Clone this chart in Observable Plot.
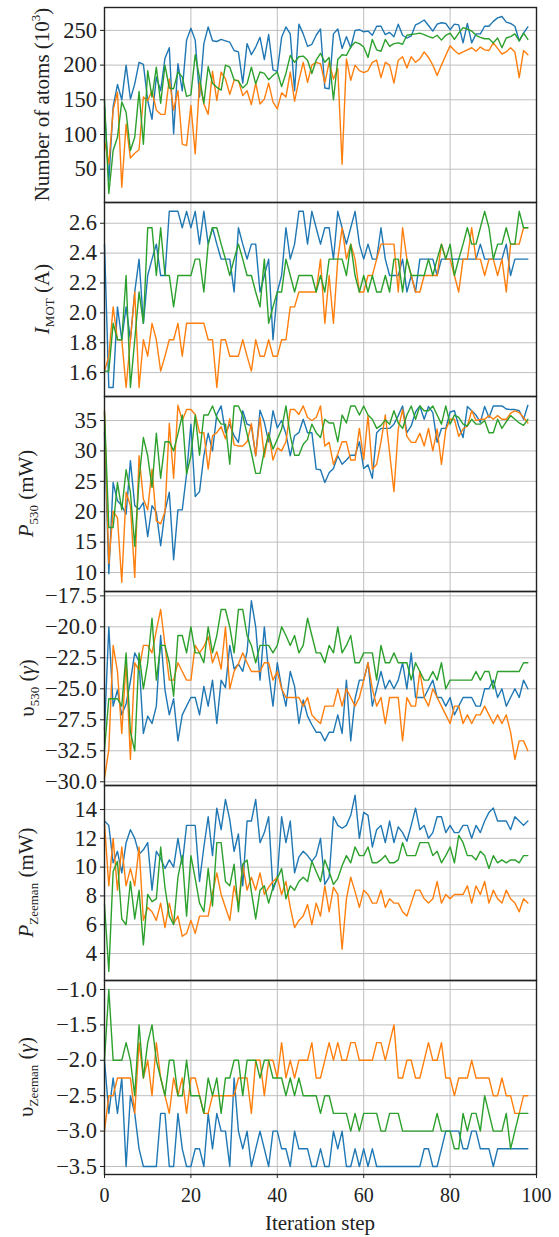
<!DOCTYPE html>
<html>
<head>
<meta charset="utf-8">
<script src="https://cdn.jsdelivr.net/npm/d3@7"></script>
<script src="https://cdn.jsdelivr.net/npm/@observablehq/plot@0.6"></script>
<style>
  body { margin: 0; background: #fff; }
  #chart svg { display: block; overflow: visible; }
  #chart svg, #chart svg text, #chart svg tspan {
    font-family: "Liberation Serif", "Times New Roman", serif !important;
  }
</style>
</head>
<body>
<div id="chart"></div>
<script>
// Iteration steps of the optimiser (x axis)
const steps = d3.range(0, 99);
const xTicks = [0, 20, 40, 60, 80, 100];

// Number of atoms (10^3)
const atomsBlue = [140,33,140,172,150,200,151,173,204,201,149,122,183,163,210,225,101,202,163,236,253,236,154,231,255,235,234,237,235,233,221,219,174,231,215,226,240,208,244,193,191,240,255,245,163,259,245,227,230,243,252,167,166,245,252,224,241,225,250,251,248,249,243,256,256,244,247,241,259,243,239,242,258,261,265,257,249,259,261,260,251,259,258,232,260,232,245,245,256,256,263,268,270,262,260,256,235,246,255];
const atomsOrange = [91,58,135,161,24,115,66,73,78,154,149,163,135,129,129,180,135,163,86,84,142,72,175,144,129,191,149,190,180,158,178,178,156,163,143,174,144,151,174,147,137,160,154,190,148,178,204,175,200,204,202,174,204,180,195,57,209,178,200,192,189,192,204,207,182,204,200,174,207,212,196,212,204,209,219,211,200,185,200,214,228,221,216,219,222,225,220,226,222,221,232,224,216,219,225,219,182,221,215];
const atomsGreen = [149,15,77,96,147,132,77,96,162,86,192,154,197,145,200,167,166,190,183,155,157,215,182,145,198,174,168,164,200,197,179,177,167,173,197,173,190,188,179,185,190,169,188,214,204,212,213,207,188,207,217,204,211,150,208,215,214,226,233,231,226,211,237,222,220,237,227,231,232,230,243,244,245,246,244,241,239,243,236,243,246,237,246,254,252,249,243,240,238,238,232,239,225,239,241,245,235,246,237];
const atomsTicks = [50, 100, 150, 200, 250];

// MOT coil current I_MOT (A)
const imotBlue = [2.46,1.5,1.5,2.04,1.82,2.04,1.82,2.14,2.36,1.93,2.25,2.36,2.46,2.25,2.25,2.68,2.68,2.68,2.57,2.68,2.57,2.68,2.46,2.68,2.46,2.57,2.46,2.36,2.36,2.36,2.14,2.57,2.46,2.36,2.46,2.46,2.14,2.25,2.36,1.82,2.14,2.25,2.57,2.36,2.46,2.68,2.68,2.46,2.68,2.57,2.46,2.57,2.57,2.36,2.68,2.57,2.46,2.57,2.68,2.46,2.36,2.46,2.36,2.36,2.57,2.36,2.25,2.25,2.25,2.36,2.14,2.25,2.14,2.36,2.36,2.36,2.36,2.25,2.36,2.36,2.36,2.36,2.36,2.36,2.36,2.36,2.36,2.46,2.36,2.36,2.36,2.36,2.36,2.46,2.25,2.36,2.36,2.36,2.36];
const imotOrange = [1.61,1.71,2.04,1.82,1.82,1.5,1.82,2.14,1.5,1.82,1.71,1.93,1.82,1.61,1.71,1.82,1.82,1.93,1.71,1.93,1.93,1.93,1.93,1.93,1.82,1.82,1.5,1.82,1.82,1.71,1.71,1.71,1.82,1.71,1.61,1.82,1.71,1.71,1.82,1.71,1.71,1.82,1.82,2.04,2.04,2.14,2.14,2.14,2.14,2.14,2.36,1.93,2.25,1.93,2.36,2.57,2.36,2.46,2.36,2.14,2.14,2.25,2.25,2.36,2.46,2.46,2.46,2.46,2.14,2.57,2.36,2.25,2.14,2.14,2.25,2.25,2.25,2.25,2.46,2.36,2.36,2.25,2.14,2.36,2.36,2.57,2.36,2.36,2.25,2.36,2.36,2.25,2.36,2.14,2.46,2.46,2.46,2.57,2.57];
const imotGreen = [1.61,1.61,1.93,1.82,1.82,2.25,1.5,1.82,2.14,1.93,2.57,2.57,2.25,2.57,2.25,2.25,2.04,2.25,2.25,2.25,2.25,2.36,2.36,2.14,2.46,2.57,2.57,2.46,2.36,2.25,2.36,2.46,2.36,2.25,2.25,2.14,2.04,2.36,1.93,2.04,2.14,2.14,2.36,2.25,2.14,2.25,2.25,2.25,2.25,2.14,2.25,2.14,2.36,2.36,2.36,2.36,2.25,2.46,2.25,2.14,2.25,2.14,2.25,2.14,2.14,2.25,2.14,2.36,2.36,2.14,2.36,2.25,2.25,2.25,2.25,2.36,2.25,2.36,2.46,2.36,2.46,2.25,2.36,2.46,2.57,2.46,2.46,2.57,2.68,2.57,2.36,2.46,2.46,2.57,2.46,2.46,2.68,2.57,2.57];
const imotTicks = [1.6, 1.8, 2.0, 2.2, 2.4, 2.6];

// Cooling beam power P_530 (mW)
const p530Blue = [33,9.8,24.8,21.8,21,19.6,28.4,21,20.4,21.5,15.9,21,19.9,14.4,20.1,23.2,12.1,20.3,20.3,26.2,34.4,22.5,23.3,29.2,32.9,30,36,37.4,33,34.4,32.5,31.4,36.6,34.4,34.1,29.2,36.7,34.7,31.5,36.6,33.8,35,32.8,29.2,32.5,33,35.2,33,33,27,26.9,24.8,26.4,27.1,29.2,27.8,28.5,29.3,29.3,31.5,27.1,27.7,25.5,33,33.7,33.7,33.7,34.4,35.8,37.4,33,34.1,36.4,37.4,35.2,37.3,36.3,31.4,33.7,33.7,36.4,36.6,34.1,32.2,37.3,36.6,35.9,34.7,37.3,35.5,37.4,37.4,37.4,36.9,36.8,36.8,36.6,35.2,37.5];
const p530Orange = [36.6,11.5,20.1,19,8.4,23.2,21,9.2,29.2,22.1,20.3,27,18.5,18,20,34.5,25.5,37.5,35,36.8,36.8,36,33,33,27,32.5,33,34,32,35.3,31,30.8,30.8,31.5,34.5,29.2,35.5,29,33,28.5,30.5,30,31.5,36.8,36.8,36,37.4,35.5,35,35.5,37.4,30.8,31.4,27.8,29.5,31.5,31.5,28.5,28.5,33.7,28.6,35.8,27,27.8,31.5,35.9,29.7,23.3,33.6,36.8,32.4,31.4,31.4,32.9,30.8,33.7,30,33.6,27.8,33.5,35.2,35.2,32.4,33.6,34.1,36.6,35,35.2,35.2,35.8,35.2,35.8,35.2,35.2,36.2,36.6,36.3,35.5,34.6];
const p530Green = [36.3,17.4,17.4,24.8,20.3,26.9,23.2,14.3,25.3,32.2,29.2,24,32.9,25.5,31.5,31.5,30,32.8,35.9,26.2,29.2,35.9,29.3,35.9,35.9,37.4,35.5,34.4,34.4,27.8,37.4,37.4,35.8,32.8,29.7,26.3,26.3,30,32.8,30.3,31.9,33.6,37.4,32.5,29.3,29.3,31.1,31.9,34.4,33,32.2,35.2,34.6,34.6,31.5,35.9,34.6,37.4,37.4,35.9,37.4,35.9,35.2,33.7,34.2,35.1,34.4,36.6,34.6,33.7,35.9,37.4,35.2,37.4,36.6,36.6,37.4,35.9,34.4,37.4,34.4,35.9,35.5,34.4,34.1,35.2,34.4,34.4,35,33,33,35.2,33.7,34.8,35.8,35.2,34.6,34.2,35.2];
const p530Ticks = [10, 15, 20, 25, 30, 35];

// Cooling beam detuning v_530 (gamma); tick labels as printed on the axis
const v530Blue = [-28.3,-20,-26.4,-25.1,-27.1,-26.2,-24.4,-22.1,-22.8,-28.6,-27.2,-27.8,-26.4,-20.7,-25.1,-27.1,-25.8,-29.2,-27.1,-26.4,-25.7,-25.7,-27.1,-24.8,-26.4,-24.3,-27.8,-24.3,-24.9,-21.5,-23.4,-23,-23.6,-22,-17.9,-20,-24.3,-20,-23.7,-26.4,-22.9,-24.9,-26.4,-23.6,-24.8,-27.8,-25.9,-27.2,-27.9,-28.5,-28.5,-29.2,-28.5,-28.5,-27.1,-28.6,-24.3,-29.2,-25.8,-24.3,-24.3,-22.9,-26.4,-25,-23.6,-25,-24.3,-25,-24.3,-22.9,-25,-22.1,-25.7,-25.7,-25.7,-25,-24.3,-25.7,-25.7,-26.4,-25.7,-27.1,-26.4,-25.7,-25.7,-25.7,-26.4,-26.4,-25,-25,-24.3,-25.7,-25,-26.4,-25.7,-25,-25.7,-24.3,-25];
const v530Orange = [-32.2,-29.9,-21.5,-23.6,-28.6,-22.8,-30.7,-22.9,-23.5,-21.5,-21.5,-22.1,-20.3,-18.6,-21.5,-24.3,-24.3,-22.9,-23.6,-24.3,-24.3,-21.5,-22.1,-21.6,-20.8,-22.9,-22,-23.4,-20,-25,-23.6,-23,-22.1,-22.9,-23.6,-23.6,-23.6,-22.9,-22.9,-24.3,-23.6,-25,-25.7,-25.7,-25.7,-25.7,-26.4,-25.7,-27.1,-27.5,-27.8,-26.4,-26.4,-26.4,-25,-26.4,-25,-25.7,-26.4,-25.7,-24.3,-22.9,-25,-26.4,-25.7,-27.8,-25.7,-25.7,-25.7,-29.2,-25.7,-26.4,-26.4,-23.6,-25.7,-26.4,-25,-25.7,-26.4,-27.1,-27.8,-26.4,-26.4,-27.8,-27.1,-27.8,-27.1,-27.1,-26.4,-27.1,-27.8,-27.1,-27.8,-27.1,-28.5,-30.7,-29.2,-29.2,-30];
const v530Green = [-29.9,-25.8,-25.8,-25.8,-26.4,-22.1,-28.5,-30,-22.1,-25,-22.9,-19.3,-24.3,-21.5,-21.5,-22.9,-25.6,-20.7,-20.7,-22.1,-20,-22.1,-22.1,-22.9,-20,-22.1,-20.7,-18.6,-18.6,-20,-22.1,-18.6,-18.6,-20.7,-21.5,-22.9,-21.5,-21.5,-21.5,-22.1,-21.5,-20,-20.7,-21.5,-20.7,-22.1,-21.5,-19.3,-20.7,-22.1,-22.1,-22.9,-21.5,-22.1,-20,-22.1,-21.5,-20.7,-22.9,-22.9,-22.1,-22.1,-22.1,-24.3,-21.5,-22.9,-22.9,-22.1,-22.9,-22.9,-22.9,-24.3,-22.9,-23.6,-24.3,-24.3,-23.6,-24.3,-22.9,-25,-24.3,-24.3,-24.3,-24.3,-24.3,-24.3,-23.6,-24.3,-23.6,-23.6,-25,-23.6,-23.6,-23.6,-23.6,-23.6,-23.6,-22.9,-22.9];
const v530Ticks = [-17.5, -20, -22.5, -25, -27.5, -30, -32.5];
const v530TickLabels = ["\u221217.5", "\u221220.0", "\u221222.5", "\u221225.0", "\u221227.5", "\u221232.5", "\u221230.0"];

// Zeeman slower beam power P_Zeeman (mW)
const pzBlue = [13.2,12.9,10.3,11.1,9.6,11.7,12.6,12,10.9,11.2,11.7,8.4,11.1,10.6,9.9,10.5,10,12,10.2,12.9,12.9,12.9,9,11.4,13.5,10.8,14.1,12.6,14.7,13.3,11.1,12.3,8.7,13.2,13.2,14.7,11.7,12.4,13.5,8.4,9.3,13.5,11.7,13.2,9.6,10.7,11.1,10.8,10.4,10.8,12,8.8,9.3,13.5,12.9,12.7,12.9,13.6,15,12,13.8,13.6,11.4,12.6,12.9,11.7,13.2,11.7,12.8,12.4,11.8,12.9,14.1,12.6,12.9,12,12.4,13.5,13.5,12.4,12.9,12.4,12.4,12.9,12.9,12,12.9,12.4,13.2,13.8,14.1,13.2,13.2,13.2,12.6,13.5,13.2,12.9,13.2];
const pzOrange = [13,8.7,12,8.4,11.4,8.7,9.9,8.7,11.4,6.3,7.2,6.9,6.3,7.5,5.8,7.5,6.1,6.6,5.2,5.4,6.3,5.4,6.6,6.6,6.6,8.2,9.6,8.1,7.2,6.3,8.7,7.4,10.2,8.4,9.3,8.4,9.6,8.1,8.6,9,9.3,8.1,9,7.2,5.8,6.3,6.6,7.4,6,7.5,6.6,8.7,6.9,8.6,8.1,4.3,7.8,9.3,8.3,7.2,8.4,8.1,7.5,7.5,8.4,7.2,7.8,7.5,7.5,6.9,6.6,7.5,8.4,8.4,7.8,7.5,7.8,9,7.5,8.1,7.8,8.1,8.1,8.1,8.7,7.5,8.7,8.1,9,7.5,8.4,7.8,7.5,8.4,7.8,7.5,6.9,7.8,7.5];
const pzGreen = [7.4,2.75,9.7,10.4,6.4,6,9,6.4,8.4,4.6,8.1,7.6,7.8,11.4,8.6,6.6,6,9.3,10.8,6.6,10.8,9.2,7.5,6.9,9.9,7.3,11.7,11.7,9,8.7,10.2,6.9,10.2,10.5,8.3,6.4,8.4,8.7,7.5,8.6,9.2,9.9,7.8,8.7,8.4,9,9.3,9,10.4,9.7,9,10.5,9.7,8.8,9.2,10.1,10.8,10.3,11.4,10.8,10.8,11.4,10.3,10.3,10.5,10.8,10.3,10.3,10.5,11.7,10.8,10.8,10.8,11.7,11.7,11.7,10.8,11.1,10.3,10.8,11.4,10.3,12.2,11.7,10.8,10.8,10.5,11.1,10.8,9.9,10.8,10.3,10.5,10.3,10.5,10.5,10.3,10.8,10.8];
const pzTicks = [4, 6, 8, 10, 12, 14];

// Zeeman slower detuning v_Zeeman (gamma)
const vzBlue = [-2,-2.75,-2.25,-2.75,-2.25,-3.5,-2.5,-2.75,-3.25,-3.5,-3.5,-3.5,-3.5,-2.75,-2.75,-3.5,-3.5,-2.75,-3.25,-3.5,-3.5,-3.25,-3.25,-3.5,-2.75,-3.25,-2.75,-3,-3,-3.5,-2.25,-3,-3.25,-3,-3.5,-3.25,-3,-3.25,-3.5,-3,-3,-3.25,-3.25,-3.5,-3,-3.25,-3.25,-3.25,-3.5,-3.5,-3.25,-3.5,-3.5,-3,-3.25,-3,-3.5,-3.5,-3.25,-3.5,-3.25,-3.5,-3.25,-3.5,-3.5,-3.5,-3.5,-3.5,-3.5,-3.5,-3.5,-3.5,-3.5,-3.5,-3.25,-3.25,-3.5,-3.5,-3.25,-3,-3,-3,-3,-3.25,-3.25,-3,-3,-3.25,-3.25,-3.25,-3.5,-3.25,-3.25,-3.25,-3.25,-3.25,-3.25,-3.25,-3.25];
const vzOrange = [-3,-2.5,-2.5,-2.25,-2.25,-2.25,-2.25,-2.75,-1.75,-2.25,-2,-2.5,-1.75,-2.25,-2.5,-2.75,-2.25,-2.5,-2.25,-2.75,-2.25,-2.25,-2.5,-2.75,-2.75,-2.5,-2.5,-2.5,-2.5,-2.5,-2.5,-2.25,-2.25,-2.25,-2.75,-2,-2,-2.5,-2,-2,-2.25,-1.75,-2.25,-2,-2.25,-2,-2,-2,-1.75,-2.25,-2.25,-2,-1.75,-2,-1.75,-2,-2,-1.75,-1.75,-2,-2,-2,-2,-1.75,-1.75,-2,-1.75,-1.5,-2.25,-2.25,-2,-2,-2.25,-2.25,-2,-1.75,-2,-2,-1.75,-2.25,-2.25,-2.5,-2.25,-2.25,-2.25,-2,-2.25,-2.25,-2.25,-2.25,-2.5,-2.5,-2.25,-2.5,-2.5,-2.75,-2.75,-2.5,-2.5];
const vzGreen = [-2,-1,-2,-2,-2,-1.75,-2,-2.5,-1.5,-2.25,-1.75,-1.5,-2,-2.25,-2.5,-2,-2,-2.5,-2.5,-2,-2.5,-2.5,-2.5,-2.75,-2.25,-2.5,-2.25,-2.75,-2.25,-2.25,-2,-2,-2.5,-2,-2,-2,-2.25,-2,-2,-2.25,-2.25,-2.25,-2.5,-2.25,-2.5,-2.25,-2.5,-2.5,-2.5,-2.5,-2.75,-2.5,-2.5,-2.75,-2.75,-2.75,-2.75,-3,-2.75,-3,-2.75,-2.75,-2.75,-2.75,-3,-3,-2.75,-2.75,-2.75,-3,-3,-3,-3,-3,-3,-3,-3,-2.75,-3,-3,-3,-3.25,-3.25,-2.75,-3,-2.75,-2.75,-3,-2.5,-2.75,-3,-3,-3,-2.75,-3.25,-3,-2.75,-2.75,-2.75];
const vzTicks = [-1, -1.5, -2, -2.5, -3, -3.5];

const colors = ["#1f77b4", "#ff7f0e", "#2ca02c"];
const serif = "Liberation Serif, Times New Roman, serif";
const fmt1 = d3.format(".1f");
const fmt0 = d3.format("d");
const v530Label = new Map(v530Ticks.map((t, i) => [t, v530TickLabels[i]]));

// y label pieces: text, italic, sub/sup
const panels = [
  {series: [atomsBlue, atomsOrange, atomsGreen], ticks: atomsTicks, format: fmt0, domain: [2, 283],
   top: 7, inner: 195, labelX: 49,
   label: [{t: "Number of atoms (10"}, {t: "3", sup: true}, {t: ")"}]},
  {series: [imotBlue, imotOrange, imotGreen], ticks: imotTicks, format: fmt1, domain: [1.44, 2.739],
   top: 0, inner: 194, labelX: 49,
   label: [{t: "I", it: true}, {t: "MOT", sub: true}, {t: " (A)"}]},
  {series: [p530Blue, p530Orange, p530Green], ticks: p530Ticks, format: fmt0, domain: [6.88, 38.95],
   top: 0, inner: 195, labelX: 33,
   label: [{t: "P", it: true}, {t: "530", sub: true}, {t: " (mW)"}]},
  {series: [v530Blue, v530Orange, v530Green], ticks: v530Ticks, format: d => v530Label.get(d), domain: [-32.8, -17.15],
   top: 0, inner: 194, labelX: 34,
   label: [{t: "\u03c5"}, {t: "530", sub: true}, {t: " ("}, {t: "\u03b3", it: true}, {t: ")"}]},
  {series: [pzBlue, pzOrange, pzGreen], ticks: pzTicks, format: fmt0, domain: [2.125, 15.67],
   top: 0, inner: 195, labelX: 33,
   label: [{t: "P", it: true}, {t: "Zeeman", sub: true}, {t: " (mW)"}]},
  {series: [vzBlue, vzOrange, vzGreen], ticks: vzTicks, format: fmt1, domain: [-3.613, -0.873],
   top: 0, inner: 194, labelX: 33,
   label: [{t: "\u03c5"}, {t: "Zeeman", sub: true}, {t: " ("}, {t: "\u03b3", it: true}, {t: ")"}]}
];

const chart = document.getElementById("chart");

panels.forEach((p, k) => {
  const last = k === panels.length - 1;
  const bottom = last ? 63 : 0;
  const svg = Plot.plot({
    width: 559,
    height: p.top + p.inner + bottom,
    marginLeft: 104,
    marginRight: 23,
    marginTop: p.top,
    marginBottom: bottom,
    style: {fontFamily: serif, fontSize: "20px", color: "#222", background: "transparent", overflow: "visible"},
    x: {domain: [0, 100], ticks: xTicks, tickFormat: fmt0, tickSize: 4, tickPadding: 9, label: null, axis: last ? "bottom" : null},
    y: {domain: p.domain, ticks: p.ticks, tickFormat: p.format, tickSize: 4, tickPadding: 3.5, label: null},
    marks: [
      Plot.ruleX(xTicks, {stroke: "#bebebe", strokeWidth: 1}),
      Plot.ruleY(p.ticks, {stroke: "#bebebe", strokeWidth: 1}),
      ...p.series.map((s, j) => Plot.line(s, {x: (d, i) => steps[i], y: d => d, stroke: colors[j], strokeWidth: 1.4})),
      Plot.frame({stroke: "#222", strokeWidth: 1.4})
    ]
  });
  chart.appendChild(svg);

  // y tick labels are set a little larger than the x tick labels
  svg.querySelectorAll('g[aria-label="y-axis tick label"] text').forEach(t => {
    t.style.fontSize = "22.5px";
  });

  // rotated y-axis title with sub/superscripts
  const cy = p.top + p.inner / 2;
  const title = d3.select(svg).append("text")
    .attr("transform", `translate(${p.labelX},${cy}) rotate(-90)`)
    .attr("text-anchor", "middle")
    .attr("font-family", serif)
    .attr("font-size", 21)
    .attr("fill", "#222");
  let shift = 0;
  p.label.forEach(part => {
    const ts = title.append("tspan").text(part.t);
    let target = 0;
    if (part.sub) { ts.attr("font-size", 13); target = 5; }
    if (part.sup) { ts.attr("font-size", 13); target = -9; }
    if (part.it) ts.attr("font-style", "italic");
    if (target !== shift) { ts.attr("dy", target - shift); shift = target; }
  });

  if (last) {
    d3.select(svg).append("text")
      .attr("x", 320)
      .attr("y", p.top + p.inner + 56)
      .attr("text-anchor", "middle")
      .attr("font-family", serif)
      .attr("font-size", 21)
      .attr("fill", "#222")
      .text("Iteration step");
  }
});
</script>
</body>
</html>
